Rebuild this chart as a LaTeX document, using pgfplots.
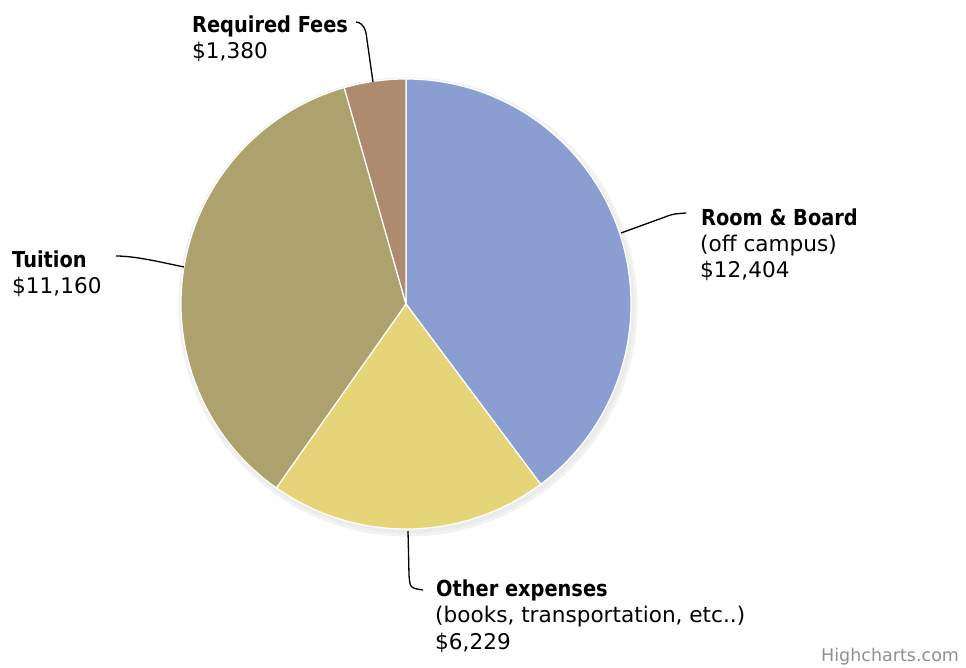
\documentclass[border=0pt]{standalone}
\usepackage{pgfplots}
\pgfplotsset{compat=1.18}
\usepackage{pgfplotstable}
\usepackage{fontspec}
\setmainfont{DejaVu Sans}
\newfontfamily\lbf{DejaVu Sans}[FakeStretch=0.88]
\definecolor{cRoom}{HTML}{8A9ED1}
\definecolor{cOther}{HTML}{E6D478}
\definecolor{cTuition}{HTML}{ADA26D}
\definecolor{cFees}{HTML}{AE8B6E}
\definecolor{hcgray}{HTML}{909090}
\pgfplotstableread{
label value
Room 12404
Other 6229
Tuition 11160
Fees 1380
}\pietable
\pgfplotstablegetelem{0}{value}\of\pietable \let\vA\pgfplotsretval
\pgfplotstablegetelem{1}{value}\of\pietable \let\vB\pgfplotsretval
\pgfplotstablegetelem{2}{value}\of\pietable \let\vC\pgfplotsretval
\pgfplotstablegetelem{3}{value}\of\pietable \let\vD\pgfplotsretval
\edef\tot{\fpeval{\vA+\vB+\vC+\vD}}
\edef\aA{\fpeval{90-360*\vA/\tot}}
\edef\aB{\fpeval{\aA-360*\vB/\tot}}
\edef\aC{\fpeval{\aB-360*\vC/\tot}}
\edef\aD{\fpeval{\aC-360*\vD/\tot}}
\newcommand\lab{\fontsize{22}{26}\lbf\bfseries}
\newcommand\sub{\fontsize{21.6}{26}\selectfont}
\begin{document}
\begin{tikzpicture}
\begin{axis}[width=966pt,height=668pt,scale only axis,
  xmin=0,xmax=966,ymin=0,ymax=668,enlargelimits=false,
  hide axis,clip=false]
% shadow
\draw[black!8, line width=5pt] (axis cs:407,362) circle[radius=226pt];
\draw[black!5, line width=3pt] (axis cs:408,361) circle[radius=228pt];
% slices
\filldraw[fill=cRoom, draw=white, line width=1.2pt] (axis cs:406,364) -- ++(90:225pt) arc[start angle=90, end angle=\aA, radius=225pt] -- cycle;
\filldraw[fill=cOther, draw=white, line width=1.2pt] (axis cs:406,364) -- ++(\aA:225pt) arc[start angle=\aA, end angle=\aB, radius=225pt] -- cycle;
\filldraw[fill=cTuition, draw=white, line width=1.2pt] (axis cs:406,364) -- ++(\aB:225pt) arc[start angle=\aB, end angle=\aC, radius=225pt] -- cycle;
\filldraw[fill=cFees, draw=white, line width=1.2pt] (axis cs:406,364) -- ++(\aC:225pt) arc[start angle=\aC, end angle=\aD, radius=225pt] -- cycle;
% connectors
\draw[black, line width=1.3pt] (axis cs:356,646) .. controls (axis cs:364,645) and (axis cs:366,638) .. (axis cs:367,628) -- (axis cs:373,586);
\draw[black, line width=1.3pt] (axis cs:621,435) -- (axis cs:665,451) .. controls (axis cs:673,454) .. (axis cs:686,455);
\draw[black, line width=1.3pt] (axis cs:116,412) .. controls (axis cs:135,412) and (axis cs:160,406) .. (axis cs:184,401);
\draw[black, line width=1.3pt] (axis cs:408,137) -- (axis cs:409,93) .. controls (axis cs:410,80) .. (axis cs:423,78);
% labels
\node[anchor=base west, inner sep=0pt, font=\lab] at (axis cs:192,635) {Required Fees};
\node[anchor=base west, inner sep=0pt, font=\sub] at (axis cs:192,609) {\$1,380};
\node[anchor=base west, inner sep=0pt, font=\lab] at (axis cs:701,442) {Room \& Board};
\node[anchor=base west, inner sep=0pt, font=\sub] at (axis cs:700,416) {(off campus)};
\node[anchor=base west, inner sep=0pt, font=\sub] at (axis cs:700,390) {\$12,404};
\node[anchor=base west, inner sep=0pt, font=\lab] at (axis cs:12,400) {Tuition};
\node[anchor=base west, inner sep=0pt, font=\sub] at (axis cs:12,374) {\$11,160};
\node[anchor=base west, inner sep=0pt, font=\lab] at (axis cs:436,71) {Other expenses};
\node[anchor=base west, inner sep=0pt, font=\sub] at (axis cs:435,45) {(books, transportation, etc..)};
\node[anchor=base west, inner sep=0pt, font=\sub] at (axis cs:435,18) {\$6,229};
\node[anchor=base west, inner sep=0pt, text=hcgray, font=\fontsize{17.5}{18}\selectfont] at (axis cs:821,6) {Highcharts.com};
\end{axis}
\pgfresetboundingbox
\path (0,0) rectangle (966pt,668pt);
\end{tikzpicture}
\end{document}
